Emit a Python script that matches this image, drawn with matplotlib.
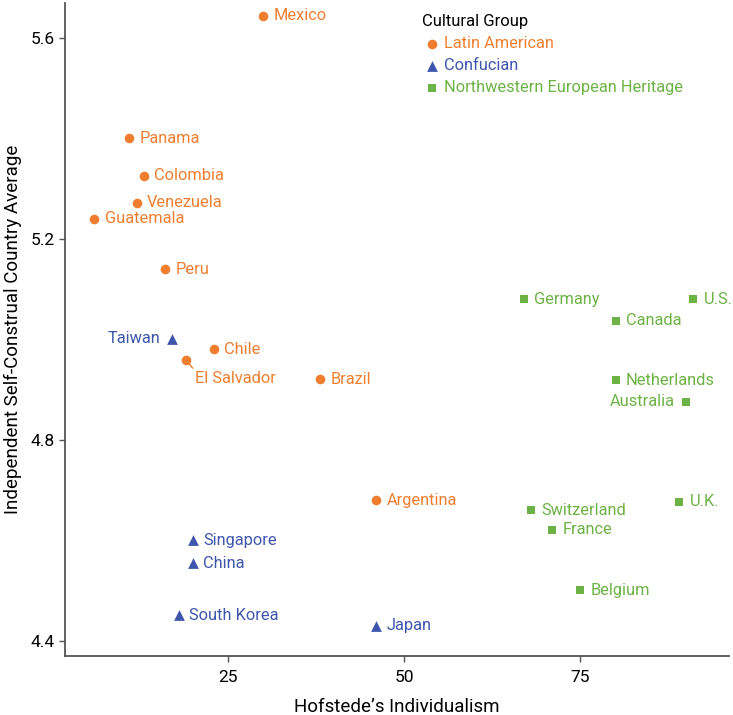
#scatter of self-construal vs individualism, by cultural group
import matplotlib
matplotlib.use("Agg")
import matplotlib.pyplot as plt

plt.rcParams['font.family'] = ['Roboto', 'DejaVu Sans']

#Latin American countries
latin_names = ['Mexico', 'Panama', 'Colombia', 'Venezuela', 'Guatemala', 'Peru',
               'Chile', 'El Salvador', 'Brazil', 'Argentina']
latin_x = [30, 11, 13, 12, 6, 16, 23, 19, 38, 46]
latin_y = [5.643, 5.40, 5.325, 5.271, 5.239, 5.139, 4.980, 4.959, 4.920, 4.679]

#Confucian countries
conf_names = ['Taiwan', 'Singapore', 'China', 'South Korea', 'Japan']
conf_x = [17, 20, 20, 18, 46]
conf_y = [5.001, 4.60, 4.554, 4.450, 4.430]

#Northwestern European heritage countries
nw_names = ['Germany', 'U.S.', 'Canada', 'Netherlands', 'Australia',
            'U.K.', 'Switzerland', 'France', 'Belgium']
nw_x = [67, 91, 80, 80, 90, 89, 68, 71, 75]
nw_y = [5.079, 5.079, 5.036, 4.918, 4.875, 4.676, 4.659, 4.621, 4.500]

orange = '#F07E2E'
blue = '#3D55AC'
green = '#6CB244'

#labels that don't sit to the right of their marker
left_labels = ['Taiwan', 'Australia']

fig = plt.figure(figsize=(7.33, 7.15), dpi=100)
ax = fig.add_axes([0.0887, 0.083, 0.906, 0.913])

groups = [
    (latin_names, latin_x, latin_y, orange, 'o', 48, 'Latin American'),
    (conf_names, conf_x, conf_y, blue, '^', 60, 'Confucian'),
    (nw_names, nw_x, nw_y, green, 's', 40, 'Northwestern European Heritage'),
]

for names, xs, ys, color, marker, size, label in groups:
    ax.scatter(xs, ys, color=color, marker=marker, s=size, linewidths=0, label=label, zorder=3)
    for name, x, y in zip(names, xs, ys):
        if name in left_labels:
            ax.annotate(name, (x, y), xytext=(-8.5, 0), textcoords='offset points',
                        ha='right', va='center', color=color, fontsize=11.8)
        elif name == 'El Salvador':
            ax.annotate(name, (x, y), xytext=(6.5, -13.5), textcoords='offset points',
                        ha='left', va='center', color=color, fontsize=11.8,
                        arrowprops=dict(arrowstyle='-', color=color, lw=1,
                                        shrinkA=0, shrinkB=0,
                                        relpos=(0.0, 1.0)))
        else:
            ax.annotate(name, (x, y), xytext=(7.5, 0), textcoords='offset points',
                        ha='left', va='center', color=color, fontsize=11.8)

ax.set_xlim(1.85, 96.1)
ax.set_ylim(4.37, 5.669)
ax.set_xticks([25, 50, 75])
ax.set_yticks([4.4, 4.8, 5.2, 5.6])
ax.set_xticklabels(['25', '50', '75'])
ax.set_yticklabels(['4.4', '4.8', '5.2', '5.6'])
ax.tick_params(labelsize=12.5, color='#555555', length=4, width=1)
ax.tick_params(axis='x', pad=6)

for side in ['top', 'right']:
    ax.spines[side].set_visible(False)
for side in ['left', 'bottom']:
    ax.spines[side].set_color('#555555')
    ax.spines[side].set_linewidth(1.3)

ax.set_xlabel('Hofstede\u2019s Individualism', fontsize=13.5, labelpad=10)
ax.set_ylabel('Independent Self-Construal Country Average', fontsize=13.5, labelpad=6)

leg = ax.legend(title='Cultural Group', loc='upper left', bbox_to_anchor=(0.52, 1.0),
                frameon=False, fontsize=11.8, title_fontsize=12, labelcolor='markerfacecolor',
                handletextpad=0.15, handlelength=1.2, labelspacing=0.42, borderpad=0.2,
                alignment='left')

fig.savefig('out.png', dpi=100)
